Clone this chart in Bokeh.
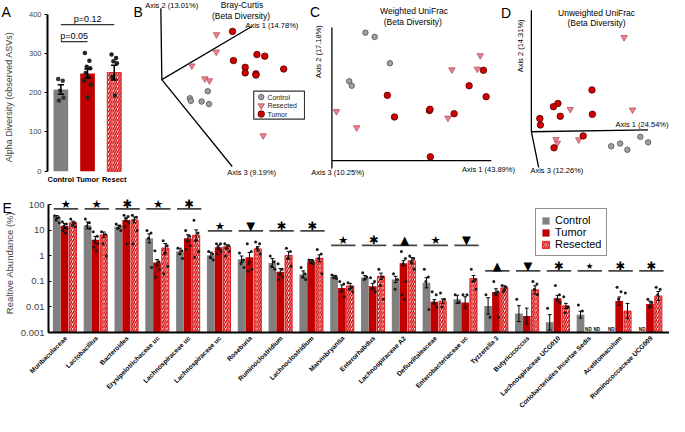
import numpy as np
from math import pi, log10
from bokeh.plotting import figure
from bokeh.models import (Range1d, FixedTicker, Legend, LegendItem,
                          ColumnDataSource, CustomJSTickFormatter)
from bokeh.layouts import row, column
from bokeh.embed import file_html
from bokeh.resources import INLINE
from bokeh.core.properties import value

FONT = "Liberation Sans"
SYM_FONT = "DejaVu Sans"
nan = float("nan")

# ---------------- Panel A data ----------------
groups_a = ["Control", "Tumor", "Resect"]
alpha_mean = [208, 249, 251]
alpha_sem = [12, 11, 19]
alpha_ctrl = [235, 230, 205, 187, 180]
alpha_tumor = [301, 281, 266, 262, 250, 240, 230, 220, 188]
alpha_resect = [297, 288, 280, 275, 240, 193]
p_labels = ["p=0.05", "p=0.12"]
p_levels = [330, 373]

# ---------------- Panels B-D data (projected ordination coordinates) ----------------
bc_ctrl_x = [212, 193.7, 194.7, 205.7, 213.3]
bc_ctrl_y = [94, 101.3, 104, 104.7, 107.3]
bc_res_x = [221, 220.7, 195.7, 209, 213.7, 268.7]
bc_res_y = [35.3, 53.3, 67.7, 81, 83, 140]
bc_tum_x = [237.3, 238.3, 262.3, 270.3, 250.3, 250.3, 261.3, 261.3, 289.7]
bc_tum_y = [32, 62.3, 56, 57.7, 69.3, 75, 76, 77.3, 71]

wu_ctrl_x = [373.3, 382.7, 398.3, 356.7, 359.3]
wu_ctrl_y = [33.3, 37.7, 65, 83.7, 88.3]
wu_tum_x = [395.7, 403, 438.7, 439.3, 464, 479.3, 494, 496.7, 439.7]
wu_tum_y = [98.3, 120.7, 114, 112.7, 117.3, 88.3, 72.3, 99.7, 162]
wu_res_x = [343.7, 364.3, 461.7, 490.7, 487.7, 457.7]
wu_res_y = [115, 131.7, 71.7, 57, 71, 121.7]

uu_ctrl_x = [625, 634.3, 641.7, 655, 663]
uu_ctrl_y = [151, 148.3, 154.7, 141.3, 147]
uu_tum_x = [605.3, 605.7, 570.3, 565.7, 572.7, 551.7, 552.3, 596.3, 566.3]
uu_tum_y = [92.7, 118, 106.7, 110, 120, 122.3, 129, 140.3, 152.7]
uu_res_x = [638.3, 647, 583, 568.3, 569.7, 591.7]
uu_res_y = [38.3, 113.3, 112.7, 144, 147.7, 144.3]

legend_b = ["Control", "Resected", "Tumor"]

# ---------------- Panel E data ----------------
taxa = ["Muribaculaceae", "Lactobacillus", "Bacteroides", "Erysipelotrichaceae uc",
        "Lachnospiraceae uc", "Lachnospiraceae uc", "Roseburia", "Ruminoclostridium",
        "Lachnoclostridium", "Marvinbryantia", "Enterorhabdus", "Lachnospiraceae A2",
        "Defluviitaleaceae", "Enterobacteriaceae uc", "Tyzzerella 3", "Butyricicoccus",
        "Lachnospiraceae UCG010", "Coriobacteriales Incertae Sedis", "Acetitomaculum",
        "Ruminococcaceae UCG009"]
abund_ctrl = [33.5, 15.8, 14, 4.9, 1.55, 1.06, 0.75, 0.53, 0.19, 0.155, 0.145, 0.12,
              0.089, 0.02, 0.011, 0.0055, 0.0025, 0.005, nan, nan]
abund_tumor = [15, 4.3, 26, 0.55, 5.0, 2.2, 0.9, 0.24, 0.61, 0.055, 0.065, 0.52,
               0.016, 0.015, 0.039, 0.0044, 0.022, nan, 0.017, 0.013]
abund_resect = [20, 6.7, 26, 2.05, 6.5, 2.3, 1.9, 1.06, 0.81, 0.067, 0.16, 0.65,
                0.017, 0.13, 0.056, 0.047, 0.011, nan, 0.0069, 0.027]
# error bar spread as multiplicative factor (log-symmetric)
err_ctrl = [1.15, 1.36, 1.15, 1.5, 1.3, 1.33, 1.33, 1.5, 1.37, 1.12, 1.19, 1.33,
            1.58, 1.45, 2.1, 2.05, 2.0, 1.37, nan, nan]
err_tumor = [1.25, 1.37, 1.12, 1.33, 1.37, 1.22, 1.53, 1.33, 1.19, 1.33, 1.3, 1.26,
             1.22, 1.68, 1.33, 2.05, 1.3, nan, 1.45, 1.3]
err_resect = [1.16, 1.3, 1.3, 1.5, 1.63, 1.19, 1.22, 1.4, 1.37, 1.26, 1.33, 1.33,
              1.22, 1.33, 1.22, 1.45, 1.26, nan, 2.0, 1.5]
dots_ctrl = [[38, 32, 25, 20], [28, 20, 15, 12], [18, 15, 12, 10], [10, 8, 5, 0.35],
             [2, 1.6, 1.2, 0.8], [1.5, 1.2, 0.9, 0.7], [1.3, 0.7, 0.5, 0.35],
             [1.0, 0.6, 0.4, 0.3], [0.35, 0.2, 0.15, 0.12], [0.18, 0.16, 0.14, 0.13],
             [0.22, 0.15, 0.12], [0.2, 0.12, 0.05], [0.3, 0.15, 0.1, 0.008],
             [0.03, 0.015], [0.03, 0.004], [0.02], [0.009], [0.012, 0.007], [], []]
dots_tumor = [[22, 18, 15, 12, 10, 8], [9, 6, 4, 3, 2.2, 1.6], [40, 35, 30, 20, 14, 3],
              [1.6, 0.6, 0.45, 0.3, 0.15], [10, 6, 4, 2.5, 1.8], [3, 3, 2.2, 1.5, 1.2],
              [3, 1.5, 0.5, 0.3, 0.25], [0.5, 0.3, 0.2, 0.15, 0.12], [0.7, 0.65, 0.6, 0.5],
              [0.1, 0.08, 0.04, 0.025], [0.14, 0.1, 0.05, 0.04],
              [1.5, 0.8, 0.5, 0.1, 0.03, 0.02], [0.04, 0.03, 0.015, 0.01], [0.03, 0.03],
              [0.1, 0.04, 0.035, 0.004], [], [0.07, 0.03, 0.02, 0.015], [],
              [0.06, 0.04, 0.02], [0.02, 0.015, 0.01]]
dots_resect = [[28, 20, 16, 14], [9, 7, 3, 1], [40, 33, 25, 10, 3], [4, 2.5, 1.2, 0.4, 0.2],
               [25, 8, 4, 1.5, 0.9], [3, 2.5, 2, 1.5, 1], [3.5, 3, 2, 1.2],
               [2, 1.5, 0.8, 0.4], [1.8, 1.2, 0.8, 0.2], [0.09, 0.06, 0.05, 0.04],
               [0.3, 0.15, 0.07, 0.02], [1.0, 0.8, 0.6, 0.3], [0.035, 0.02, 0.01],
               [0.3, 0.12, 0.1, 0.05], [0.07, 0.06, 0.04], [0.1, 0.08, 0.05, 0.03],
               [0.025, 0.01, 0.006], [], [0.035], [0.06, 0.05, 0.03]]
sig_symbols = ["\u2605", "\u2605", "\u2731", "\u2605", "\u2731", "\u2605", "\u25BC", "\u2731",
               "\u2731", "\u2605", "\u2731", "\u25B2", "\u2605", "\u25BC", "\u25B2", "\u25BC",
               "\u2731", "\u2605", "\u2731", "\u2731"]
sig_level = [70, 70, 70, 70, 70, 9.7, 9.7, 9.7, 9.7, 2.6, 2.6, 2.6, 2.6, 2.6,
             0.26, 0.26, 0.26, 0.26, 0.26, 0.26]
nd_marks = [(17, "tumor"), (17, "resect"), (18, "ctrl"), (19, "ctrl")]
legend_e = ["Control", "Tumor", "Resected"]

# ---------------- styles / layout ----------------
GRAY = "#808080"
RED = "#c00000"
PT_CTRL = dict(fill_color="#a0a0a0", line_color="#505050", size=5.5, line_width=0.8)
PT_RES = dict(marker="inverted_triangle", fill_color="#e8868e", line_color="#b04050", size=6.5, line_width=0.7)
PT_TUM = dict(fill_color="#d40000", line_color="#500000", size=6.5, line_width=0.8)
HATCH = dict(fill_color="white", line_color="#e02020", line_width=1,
             hatch_pattern="/", hatch_color="#d00000", hatch_weight=1.4, hatch_scale=4.5)

W = 669
H_TOP = 193
H_E = 416 - H_TOP
KY = H_TOP / 200.0          # screen px per reference px (vertical)
KX = 669 / 685
WA, WB, WC = 132, 173, 221
WD = W - WA - WB - WC


def txt(p, x, y, s, size, align="left", baseline="middle", angle=0.0, bold=False,
        font=FONT, color="black", level="glyph"):
    p.text(x=[x], y=[y], text=[s], text_font=value(font), text_font_size=f"{size}px",
           text_align=align, text_baseline=baseline, angle=angle,
           text_font_style="bold" if bold else "normal", text_color=color, level=level)


def base_fig(x0, x1, w, h, y0=200, y1=0):
    p = figure(width=w, height=h, x_range=Range1d(x0, x1), y_range=Range1d(y0, y1),
               x_axis_type=None, y_axis_type=None, toolbar_location=None,
               output_backend="svg", min_border=0, title=None)
    p.outline_line_color = None
    p.grid.visible = False
    return p


# ---------------- Panel A ----------------
A_LEFT = 47
A_FRAME_W = WA - A_LEFT
A_UPX = 1 / (27.33 * KX)               # category units per screen px
A_YPX = 400 / ((177 - 14) * KY)         # value units per screen px
a_y0 = -(H_TOP - 177 * KY) * A_YPX
a_y1 = 400 + 14 * KY * A_YPX
pa = figure(width=WA, height=H_TOP, x_range=Range1d(0, A_FRAME_W * A_UPX), y_range=Range1d(a_y0, a_y1),
            toolbar_location=None, output_backend="svg", title=None, x_axis_type=None,
            min_border_left=A_LEFT, min_border_right=0, min_border_top=0, min_border_bottom=0)
pa.outline_line_color = None
pa.grid.visible = False
xa = [0.5, 1.5, 2.5]
pa.vbar(x=[xa[0]], top=[alpha_mean[0]], width=0.55, fill_color=GRAY, line_color=None)
pa.vbar(x=[xa[1]], top=[alpha_mean[1]], width=0.55, fill_color=RED, line_color=None)
pa.vbar(x=[xa[2]], top=[alpha_mean[2]], width=0.52, **HATCH)
jit = [-0.1, 0.07, -0.03, 0.1, -0.07, 0.03, -0.12, 0.12, 0.0]
for k, pts in enumerate([alpha_ctrl, alpha_tumor, alpha_resect]):
    xs = [xa[k] + jit[j % len(jit)] for j in range(len(pts))]
    pa.scatter(xs, pts, size=4.5, fill_color="#222222" if k else "#333333", line_color=None)
for k in range(3):
    lo, hi = alpha_mean[k] - alpha_sem[k], alpha_mean[k] + alpha_sem[k]
    pa.segment(x0=[xa[k]], x1=[xa[k]], y0=[lo], y1=[hi], line_color="black", line_width=1.5)
    pa.segment(x0=[xa[k] - 0.12] * 2, x1=[xa[k] + 0.12] * 2, y0=[lo, hi], y1=[lo, hi],
               line_color="black", line_width=1.5)
pa.segment(x0=[xa[0], xa[0]], x1=[xa[1], xa[2]], y0=p_levels, y1=p_levels, line_color="#333333", line_width=1.3)
pa.text(x=[(xa[0] + xa[1]) / 2, (xa[0] + xa[2]) / 2], y=[p_levels[0] + 2, p_levels[1] + 2], text=p_labels,
        text_font=value(FONT), text_font_size="9px", text_align="center", text_baseline="bottom")
pa.text(x=xa, y=[-9 * KY * A_YPX] * 3, text=groups_a, text_font=value(FONT), text_font_size="7.5px",
        text_font_style="bold", text_align="center", text_baseline="middle")
pa.yaxis.ticker = FixedTicker(ticks=[0, 100, 200, 300, 400])
pa.yaxis.bounds = (0, 400)
pa.yaxis.axis_label = "Alpha Diversity (observed ASVs)"
pa.yaxis.axis_label_text_font = FONT
pa.yaxis.axis_label_text_font_style = "normal"
pa.yaxis.axis_label_text_font_size = "9px"
pa.yaxis.axis_label_standoff = 12
pa.yaxis.major_label_text_font = FONT
pa.yaxis.major_label_text_font_size = "7.5px"
pa.yaxis.major_label_standoff = 3
pa.yaxis.axis_line_width = 2
pa.yaxis.major_tick_out = 3
pa.yaxis.major_tick_in = 0
pa.yaxis.minor_tick_line_color = None
txt(pa, -46 * A_UPX, 400 + (14 - 12) * KY * A_YPX, "A", 14, level="overlay")

# ---------------- Panel B ----------------
pb = base_fig(135, 312, WB, H_TOP)
pb.segment(x0=[165, 165, 165], y0=[82, 82, 82], x1=[164, 257, 237], y1=[8, 27, 172],
           line_color="black", line_width=1.3)
pb.scatter(bc_ctrl_x, bc_ctrl_y, **PT_CTRL)
pb.scatter(bc_res_x, bc_res_y, **PT_RES)
pb.scatter(bc_tum_x, bc_tum_y, **PT_TUM)
txt(pb, 136, 12, "B", 14)
txt(pb, 148, 5, "Axis 2 (13.01%)", 7.5)
txt(pb, 247, 4.7, "Bray-Curtis", 8.5, align="center")
txt(pb, 246, 15.7, "(Beta Diversity)", 8.5, align="center")
txt(pb, 250.5, 26, "Axis 1 (14.78%)", 7.5)
txt(pb, 232, 178, "Axis 3 (9.19%)", 7.5)
pb.quad(left=[259], right=[311], top=[94], bottom=[123], fill_color="white",
        line_color="#333333", line_width=1.2)
pb.scatter([266.7], [100], **PT_CTRL)
pb.scatter([266.7], [109], **PT_RES)
pb.scatter([266.7], [117.7], **PT_TUM)
pb.text(x=[273, 273, 273], y=[100, 109, 117.7], text=legend_b, text_font=value(FONT),
        text_font_size="7px", text_baseline="middle", text_color="#222222")

# ---------------- Panel C ----------------
pc = base_fig(312, 538, WC, H_TOP)
pc.segment(x0=[339, 339], y0=[28, 166], x1=[339, 502], y1=[174, 166], line_color="black", line_width=1.3)
pc.scatter(wu_ctrl_x, wu_ctrl_y, **PT_CTRL)
pc.scatter(wu_res_x, wu_res_y, **PT_RES)
pc.scatter(wu_tum_x, wu_tum_y, **PT_TUM)
txt(pc, 316.5, 11.5, "C", 14)
txt(pc, 423, 10.7, "Weighted UniFrac", 8.5, align="center")
txt(pc, 421.7, 22.7, "(Beta Diversity)", 8.5, align="center")
txt(pc, 325, 53, "Axis 2 (17.18%)", 7.5, align="center", angle=pi / 2)
txt(pc, 318, 178, "Axis 3 (10.25%)", 7.5)
txt(pc, 472, 175, "Axis 1 (43.89%)", 7.5)
txt(pc, 512, 13, "D", 14)
txt(pc, 532, 47, "Axis 2 (14.31%)", 7.5, align="center", angle=pi / 2)

# ---------------- Panel D ----------------
pd_ = base_fig(538, 685, WD, H_TOP)
pd_.segment(x0=[543, 543, 543], y0=[136, 136, 136], x1=[543, 663, 550.5], y1=[10, 134, 173],
            line_color="black", line_width=1.3)
pd_.scatter(uu_ctrl_x, uu_ctrl_y, **PT_CTRL)
pd_.scatter(uu_res_x, uu_res_y, **PT_RES)
pd_.scatter(uu_tum_x, uu_tum_y, **PT_TUM)
txt(pd_, 610, 12.7, "Unweighted UniFrac", 8.5, align="center")
txt(pd_, 610, 23.3, "(Beta Diversity)", 8.5, align="center")
txt(pd_, 684, 128.3, "Axis 1 (24.54%)", 7.5, align="right")
txt(pd_, 542, 176, "Axis 3 (12.26%)", 7.5)

# ---------------- Panel E ----------------
EL = 47
E_FRAME_H = 139
E_BOTTOM = H_E - E_FRAME_H
X0 = -0.522
PPU = 31.6 * KX                          # screen px per group
X1 = X0 + (W - EL) / PPU
YTOP = 282
PPD = E_FRAME_H / (log10(YTOP) - log10(0.001))   # px per decade
pe = figure(width=W, height=H_E, y_axis_type="log", x_range=Range1d(X0, X1),
            y_range=Range1d(0.001, YTOP), toolbar_location=None, output_backend="svg", title=None,
            min_border_left=EL, min_border_right=0, min_border_top=0, min_border_bottom=E_BOTTOM)
pe.outline_line_color = None
pe.grid.visible = False
idx = np.arange(len(taxa), dtype=float)
OFF = {"ctrl": -0.255, "tumor": 0.0, "resect": 0.27}
BW = 0.25
series = [("ctrl", abund_ctrl, err_ctrl, dots_ctrl),
          ("tumor", abund_tumor, err_tumor, dots_tumor),
          ("resect", abund_resect, err_resect, dots_resect)]
rend = {}
for name, vals, errs, dots in series:
    v = np.array(vals, dtype=float)
    e = np.array(errs, dtype=float)
    src = ColumnDataSource(dict(x=idx + OFF[name], top=v, bottom=np.full(len(v), 0.001),
                                lo=v / e, hi=v * e,
                                c0=idx + OFF[name] - 0.06, c1=idx + OFF[name] + 0.06))
    if name == "ctrl":
        r = pe.vbar(x="x", top="top", bottom="bottom", width=BW, source=src,
                    fill_color=GRAY, line_color=None)
    elif name == "tumor":
        r = pe.vbar(x="x", top="top", bottom="bottom", width=BW, source=src,
                    fill_color=RED, line_color=None)
    else:
        r = pe.vbar(x="x", top="top", bottom="bottom", width=BW - 0.02, source=src, **HATCH)
    rend[name] = r
    pe.segment(x0="x", x1="x", y0="lo", y1="hi", source=src, line_color="black", line_width=1)
    pe.segment(x0="c0", x1="c1", y0="hi", y1="hi", source=src, line_color="black", line_width=1)
    pe.segment(x0="c0", x1="c1", y0="lo", y1="lo", source=src, line_color="black", line_width=1)
    jx = [-0.07, 0.06, -0.02, 0.08, -0.05, 0.03]
    dx, dy = [], []
    for i, pts in enumerate(dots):
        for j, pv in enumerate(pts):
            dx.append(i + OFF[name] + jx[j % len(jx)])
            dy.append(pv)
    pe.scatter(dx, dy, size=3, fill_color="#1a1a1a", line_color=None)

# significance markers
pe.segment(x0=idx - 0.35, x1=idx + 0.44, y0=sig_level, y1=sig_level,
           line_color="#444444", line_width=1.7)
sym_sizes = ["11.5px"] * len(taxa)
sym_sizes[17] = "8.5px"
sig_src = ColumnDataSource(dict(x=idx + 0.04, y=np.array(sig_level) * 1.6, t=sig_symbols, sz=sym_sizes))
pe.text(x="x", y="y", text="t", text_font_size="sz", source=sig_src,
        text_font=value(SYM_FONT), text_align="center", text_baseline="middle", text_color="black")
# ND labels
nd_x = [i + OFF[s] for i, s in nd_marks]
pe.text(x=nd_x, y=[0.00135] * len(nd_x), text=["ND"] * len(nd_x), text_font=value(FONT),
        text_font_size="4.6px", text_font_style="bold", text_align="center", text_baseline="middle")
# category labels under the axis (rotated, ending at each group's position)
lab_y = 10 ** (-3 - 4.5 / PPD)
pe.text(x=idx + 0.04, y=np.full(len(taxa), lab_y), text=taxa, angle=pi / 4,
        text_font=value(FONT), text_font_size="6.6px", text_font_style="bold",
        text_align="right", text_baseline="middle", text_color="black", level="overlay")
txt(pe, X0 - 46 / PPU, 10 ** (log10(YTOP) - 14.4 / PPD), "E", 14, level="overlay")

pe.yaxis.ticker = FixedTicker(ticks=[0.001, 0.01, 0.1, 1, 10, 100])
pe.yaxis.formatter = CustomJSTickFormatter(code="return String(Number(tick.toPrecision(3)));")
pe.yaxis.bounds = (0.001, 100)
pe.yaxis.axis_label = "Realtive Abundance (%)"
pe.yaxis.axis_label_text_font = FONT
pe.yaxis.axis_label_text_font_style = "normal"
pe.yaxis.axis_label_text_font_size = "9.5px"
pe.yaxis.axis_label_standoff = 3
pe.yaxis.major_label_text_font = FONT
pe.yaxis.major_label_text_font_size = "9.5px"
pe.yaxis.major_label_standoff = 4
pe.yaxis.axis_line_width = 2
pe.yaxis.major_tick_in = 3
pe.yaxis.major_tick_out = 0
pe.yaxis.minor_tick_line_color = None
pe.xaxis.ticker = FixedTicker(ticks=[])
pe.xaxis.axis_line_width = 2
pe.xaxis.major_label_standoff = 0
pe.xaxis.major_tick_line_color = None
pe.xaxis.minor_tick_line_color = None

le = Legend(items=[LegendItem(label=legend_e[0], renderers=[rend["ctrl"]]),
                   LegendItem(label=legend_e[1], renderers=[rend["tumor"]]),
                   LegendItem(label=legend_e[2], renderers=[rend["resect"]])],
            location=(487, 76))
le.label_text_font = FONT
le.label_text_font_size = "11px"
le.label_text_color = "black"
le.label_height = 12
le.glyph_height = 9
le.glyph_width = 9
le.spacing = 0
le.padding = 5
le.margin = 0
le.label_standoff = 5
le.border_line_color = "#222222"
le.border_line_width = 1.5
pe.add_layout(le)

layout = column(row(pa, pb, pc, pd_), pe)
open("out.html", "w").write(file_html(layout, INLINE))
